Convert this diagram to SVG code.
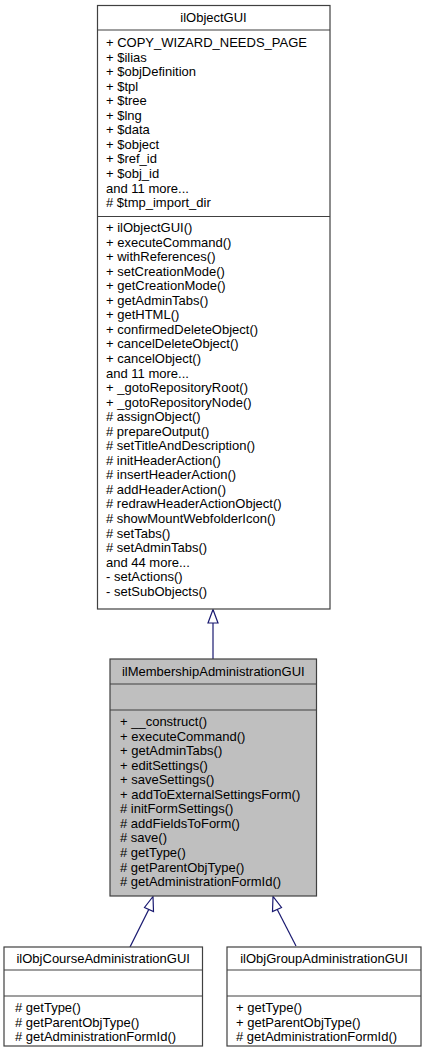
<svg xmlns="http://www.w3.org/2000/svg" width="423" height="1057" viewBox="0 0 423 1057">
<defs>
<marker id="inh" markerWidth="12" markerHeight="16" refX="14" refY="5" orient="auto" markerUnits="userSpaceOnUse" viewBox="0 0 14 10">
<path d="M0,0 L14,5 L0,10 Z" fill="#ffffff" stroke="#191970" stroke-width="1"/>
</marker>
<style>
.box{fill:#ffffff;stroke:#404040;stroke-width:1.2}
.cur{fill:#bfbfbf;stroke:#404040;stroke-width:1.2}
.sep{stroke:#404040;stroke-width:1.2}
text{font-family:"Liberation Sans",Arial,Helvetica,sans-serif;font-size:13px;fill:#000000}
.t{text-anchor:middle}
.edge{stroke:#191970;stroke-width:1.2;fill:none}
.head{fill:#ffffff;stroke:#191970;stroke-width:1.2}
</style>
</defs>
<rect width="423" height="1057" fill="#ffffff"/>
<g id="connectors">
<line class="edge" x1="213" y1="623" x2="213" y2="659"/>
<polygon class="head" points="213,609.5 208,623 218,623"/>
<line class="edge" x1="149" y1="909" x2="130" y2="947"/>
<polygon class="head" points="153,896.5 144.5,907.5 153.5,911.5"/>
<line class="edge" x1="277" y1="909" x2="296" y2="946"/>
<polygon class="head" points="273,896.5 272.5,911.5 281.5,907.5"/>
</g>
<g id="ilObjectGUI">
<rect class="box" x="97.5" y="5.5" width="232.5" height="603.5"/>
<line class="sep" x1="97.5" y1="30" x2="330" y2="30"/>
<line class="sep" x1="97.5" y1="216.5" x2="330" y2="216.5"/>
<text class="t" x="213.5" y="22">ilObjectGUI</text>
<text x="106" y="47">
<tspan x="106">+ COPY_WIZARD_NEEDS_PAGE</tspan>
<tspan x="106" dy="14.55">+ $ilias</tspan>
<tspan x="106" dy="14.55">+ $objDefinition</tspan>
<tspan x="106" dy="14.55">+ $tpl</tspan>
<tspan x="106" dy="14.55">+ $tree</tspan>
<tspan x="106" dy="14.55">+ $lng</tspan>
<tspan x="106" dy="14.55">+ $data</tspan>
<tspan x="106" dy="14.55">+ $object</tspan>
<tspan x="106" dy="14.55">+ $ref_id</tspan>
<tspan x="106" dy="14.55">+ $obj_id</tspan>
<tspan x="106" dy="14.55">and 11 more...</tspan>
<tspan x="106" dy="14.55"># $tmp_import_dir</tspan>
</text>
<text x="106" y="232">
<tspan x="106">+ ilObjectGUI()</tspan>
<tspan x="106" dy="14.55">+ executeCommand()</tspan>
<tspan x="106" dy="14.55">+ withReferences()</tspan>
<tspan x="106" dy="14.55">+ setCreationMode()</tspan>
<tspan x="106" dy="14.55">+ getCreationMode()</tspan>
<tspan x="106" dy="14.55">+ getAdminTabs()</tspan>
<tspan x="106" dy="14.55">+ getHTML()</tspan>
<tspan x="106" dy="14.55">+ confirmedDeleteObject()</tspan>
<tspan x="106" dy="14.55">+ cancelDeleteObject()</tspan>
<tspan x="106" dy="14.55">+ cancelObject()</tspan>
<tspan x="106" dy="14.55">and 11 more...</tspan>
<tspan x="106" dy="14.55">+ _gotoRepositoryRoot()</tspan>
<tspan x="106" dy="14.55">+ _gotoRepositoryNode()</tspan>
<tspan x="106" dy="14.55"># assignObject()</tspan>
<tspan x="106" dy="14.55"># prepareOutput()</tspan>
<tspan x="106" dy="14.55"># setTitleAndDescription()</tspan>
<tspan x="106" dy="14.55"># initHeaderAction()</tspan>
<tspan x="106" dy="14.55"># insertHeaderAction()</tspan>
<tspan x="106" dy="14.55"># addHeaderAction()</tspan>
<tspan x="106" dy="14.55"># redrawHeaderActionObject()</tspan>
<tspan x="106" dy="14.55"># showMountWebfolderIcon()</tspan>
<tspan x="106" dy="14.55"># setTabs()</tspan>
<tspan x="106" dy="14.55"># setAdminTabs()</tspan>
<tspan x="106" dy="14.55">and 44 more...</tspan>
<tspan x="106" dy="14.55">- setActions()</tspan>
<tspan x="106" dy="14.55">- setSubObjects()</tspan>
</text>
</g>
<g id="ilMembershipAdministrationGUI">
<rect class="cur" x="110" y="659" width="206.5" height="237"/>
<line class="sep" x1="110" y1="684" x2="316.5" y2="684"/>
<line class="sep" x1="110" y1="710" x2="316.5" y2="710"/>
<text class="t" x="213.3" y="676">ilMembershipAdministrationGUI</text>
<text x="120" y="726">
<tspan x="120">+ __construct()</tspan>
<tspan x="120" dy="14.55">+ executeCommand()</tspan>
<tspan x="120" dy="14.55">+ getAdminTabs()</tspan>
<tspan x="120" dy="14.55">+ editSettings()</tspan>
<tspan x="120" dy="14.55">+ saveSettings()</tspan>
<tspan x="120" dy="14.55">+ addToExternalSettingsForm()</tspan>
<tspan x="120" dy="14.55"># initFormSettings()</tspan>
<tspan x="120" dy="14.55"># addFieldsToForm()</tspan>
<tspan x="120" dy="14.55"># save()</tspan>
<tspan x="120" dy="14.55"># getType()</tspan>
<tspan x="120" dy="14.55"># getParentObjType()</tspan>
<tspan x="120" dy="14.55"># getAdministrationFormId()</tspan>
</text>
</g>
<g id="ilObjCourseAdministrationGUI">
<rect class="box" x="4" y="947" width="198.5" height="99"/>
<line class="sep" x1="4" y1="970" x2="202.5" y2="970"/>
<line class="sep" x1="4" y1="996" x2="202.5" y2="996"/>
<text class="t" x="103.2" y="963">ilObjCourseAdministrationGUI</text>
<text x="15" y="1012">
<tspan x="15"># getType()</tspan>
<tspan x="15" dy="14.55"># getParentObjType()</tspan>
<tspan x="15" dy="14.55"># getAdministrationFormId()</tspan>
</text>
</g>
<g id="ilObjGroupAdministrationGUI">
<rect class="box" x="227" y="947" width="194" height="99"/>
<line class="sep" x1="227" y1="970" x2="421" y2="970"/>
<line class="sep" x1="227" y1="996" x2="421" y2="996"/>
<text class="t" x="324" y="963">ilObjGroupAdministrationGUI</text>
<text x="236" y="1012">
<tspan x="236">+ getType()</tspan>
<tspan x="236" dy="14.55">+ getParentObjType()</tspan>
<tspan x="236" dy="14.55"># getAdministrationFormId()</tspan>
</text>
</g>
</svg>
